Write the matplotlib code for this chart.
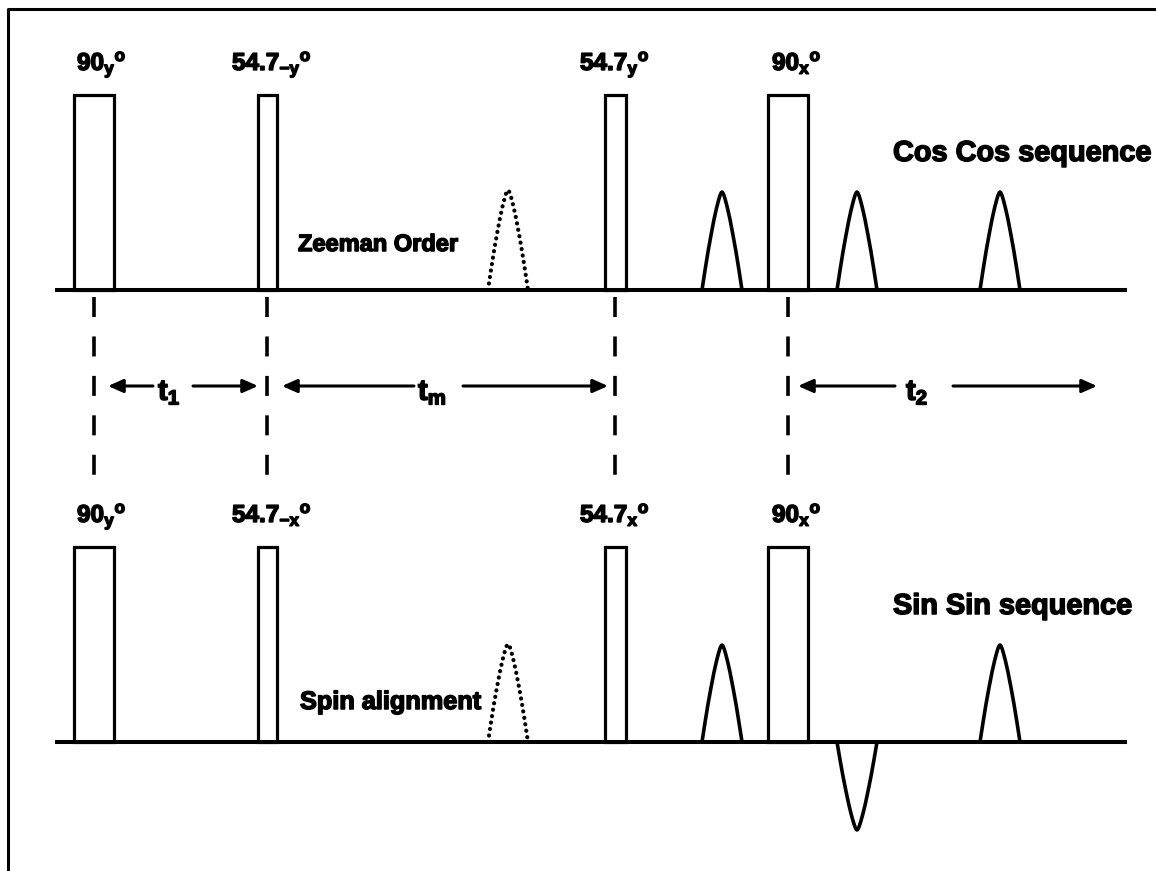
import matplotlib
matplotlib.use("Agg")
from matplotlib import pyplot as plt
from matplotlib.patches import Rectangle
import matplotlib.patheffects as pe

plt.rcParams["font.family"] = ["Liberation Sans", "DejaVu Sans"]
plt.rcParams["font.weight"] = "bold"
plt.rcParams["mathtext.fontset"] = "custom"
plt.rcParams["mathtext.rm"] = "Liberation Sans:bold"
plt.rcParams["mathtext.it"] = "Liberation Sans:bold"
plt.rcParams["mathtext.bf"] = "Liberation Sans:bold"
plt.rcParams["lines.scale_dashes"] = False

# ---------------- pulse sequence data (time axis in pixel units) ----------------
pulse_centres = [94, 267, 615, 788]
pulse_widths = [40, 19, 21, 40]
pulse_height = 195

cos_labels = [r"$90_{y}{}^{o}$", r"$54.7_{-y}{}^{o}$", r"$54.7_{y}{}^{o}$", r"$90_{x}{}^{o}$"]
sin_labels = [r"$90_{y}{}^{o}$", r"$54.7_{-x}{}^{o}$", r"$54.7_{x}{}^{o}$", r"$90_{x}{}^{o}$"]
label_left = [77, 232, 580, 772]

# echoes: centre and signed amplitude
echo_centres = [722, 857, 1000]
cos_echo_amps = [98, 98, 98]
sin_echo_amps = [97, -88, 97]
stored_centre = 508
cos_stored_amp = 100
sin_stored_amp = 98
echo_halfwidth = 20

# echo outline (half profile, u in [-1, 0])
profile_u = [-1.0, -0.85, -0.7, -0.55, -0.4, -0.28, -0.18, -0.1, -0.04, 0.0]
profile_h = [0.0, 0.2, 0.39, 0.56, 0.72, 0.83, 0.91, 0.965, 0.993, 1.0]

# delay arrows (tail, head) and their labels
arrow_tails = [153, 193, 414, 463, 895, 953]
arrow_heads = [108, 258, 282, 608, 798, 1097]
delay_labels = [r"$t_{1}$", r"$t_{m}$", r"$t_{2}$"]
delay_label_x = [158, 418, 906]

row_base = {"cos": 290, "sin": 742}

heavy = [pe.withStroke(linewidth=1.1, foreground="black")]


def echo_shape(centre, amp):
    us = profile_u + [-u for u in reversed(profile_u[:-1])]
    hs = profile_h + list(reversed(profile_h[:-1]))
    xs = [centre + u * echo_halfwidth for u in us]
    return xs, [h * amp for h in hs]


fig = plt.figure(figsize=(11.56, 8.71), dpi=100)
ax = fig.add_axes([0, 0, 1, 1])
ax.set_xlim(0, 1156)
ax.set_ylim(871, 0)
ax.axis("off")

# frame (top and left edges only)
ax.plot([8, 8, 1156], [871, 9, 9], color="black", lw=2.2, solid_capstyle="butt")

for row, labels, echo_amps, stored_amp, title, title_y, note, note_x, note_y, note_size in [
    ("cos", cos_labels, cos_echo_amps, cos_stored_amp, "Cos Cos sequence", 161,
     "Zeeman Order", 298, 251, 17),
    ("sin", sin_labels, sin_echo_amps, sin_stored_amp, "Sin Sin sequence", 614,
     "Spin alignment", 300, 709, 18.2),
]:
    base = row_base[row]
    ax.plot([55, 1127], [base, base], color="black", lw=2.9, solid_capstyle="butt", zorder=3)
    for c, w, lab, lx in zip(pulse_centres, pulse_widths, labels, label_left):
        ax.add_patch(Rectangle((c - w / 2, base - pulse_height), w, pulse_height,
                               fill=False, ec="black", lw=2.3, joinstyle="miter"))
        ax.text(lx, base - 220, lab, fontsize=17.5, ha="left", va="baseline",
                path_effects=heavy)
    for c, a in zip(echo_centres, echo_amps):
        xs, hs = echo_shape(c, a)
        ax.plot(xs, [base - h for h in hs], color="black", lw=2.6,
                solid_joinstyle="round", solid_capstyle="butt")
    xs, hs = echo_shape(stored_centre, stored_amp)
    ax.plot(xs, [base - h for h in hs], color="black", lw=3.0,
            linestyle=(0, (0.1, 4.6)), dash_capstyle="round")
    ax.text(893, title_y, title, fontsize=20.8, ha="left", va="baseline", path_effects=heavy)
    ax.text(note_x, note_y, note, fontsize=note_size, ha="left", va="baseline",
            path_effects=heavy)

# dashed timing markers
ax.vlines(pulse_centres, 297, 492, colors="black", lw=2.6, linestyles=[(0, (14.4, 14.0))])

# delay arrows
for t, h in zip(arrow_tails, arrow_heads):
    ax.annotate("", xy=(h, 386), xytext=(t, 386),
                arrowprops=dict(arrowstyle="-|>,head_length=0.9,head_width=0.4",
                                mutation_scale=10, lw=2.2, color="black",
                                shrinkA=0, shrinkB=0))
for lab, x in zip(delay_labels, delay_label_x):
    ax.text(x, 400, lab, fontsize=21, ha="left", va="baseline", path_effects=heavy)

fig.savefig("out.png", dpi=100)
